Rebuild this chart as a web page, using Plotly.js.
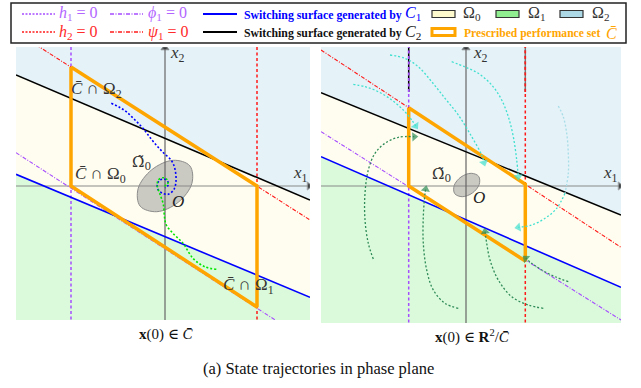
<!DOCTYPE html>
<html><head><meta charset="utf-8">
<script src="https://cdn.plot.ly/plotly-3.0.1.min.js"></script>
<style>html,body{margin:0;padding:0;background:#fff}</style>
</head><body><div id="chart" style="width:641px;height:388px"></div>
<script>
// ===== Left panel: x(0) in C-bar (coordinates x1 right, x2 up) =====
const L_range_x = [-149, 145];
const L_range_y = [-134, 139];
const L_black_x = [-149, 145], L_black_y = [111, -14];
const L_blue_x = [-149, 145], L_blue_y = [11.7, -111.3];
const L_phi_x = [-149, 118], L_phi_y = [33.3, -139];
const L_psi_x = [-128.7, 145], L_psi_y = [141, -34];
const L_h1_x = -94, L_h2_x = 92;
const L_C_x = [-94, 92, 92, -94, -94];
const L_C_y = [119, 0, -121, 0, 119];
const L_ell_x = [24.9, 8.3, -13.2, -26.9, -24.9, -8.3, 13.2, 26.9, 24.9];
const L_ell_y = [20.1, 25.7, 16.3, -2.7, -20.1, -25.7, -16.3, 2.7, 20.1];
const L_trajB_x = [-53.7, -46, -38.7, -30, -22, -13, -3.3, 6.7, 10, 11, 9, 3.3, -2.3, -6.7, -7.7, -5, 0, 3.3, 2.7, 0];
const L_trajB_y = [82.7, 79, 74.3, 66, 57.7, 46, 35, 25, 16.7, 5, -3.3, -8.3, -7.3, -4, 1.7, 6, 6.7, 3.3, 0, -1.7];
const L_trajG_x = [51.3, 39.7, 28, 18, 8, 1.3, -0.5, -1.7, -5, -7.7, -6.7, -1.7, 1.7, 2.7, -1];
const L_trajG_y = [-83.3, -80.7, -72.3, -57.3, -47.3, -39, -31, -18.3, -8.3, 0, 6, 8.3, 6.7, 1.7, 0];

// ===== Right panel: x(0) in R^2 / C-bar =====
const R_range_x = [-145, 155];
const R_range_y = [-137, 139];
const R_black_x = [-145, 155], R_black_y = [93.3, -29];
const R_blue_x = [-145, 155], R_blue_y = [29.3, -101.3];
const R_phi_x = [-145, 155], R_phi_y = [54.3, -134];
const R_psi_x = [-145, 155], R_psi_y = [136, -61.3];
const R_h1_x = -57.3, R_h2_x = 59.3;
const R_C_x = [-57.3, 59.3, 59.3, -57.3, -57.3];
const R_C_y = [78.3, 1.7, -75, 0, 78.3];
const R_ell_x = [12.7, 5.2, -5.0, -11.8, -11.3, -3.8, 6.4, 13.2, 12.7];
const R_ell_y = [9.6, 12.7, 9.0, 0.5, -7.6, -10.7, -7.0, 1.5, 9.6];
const R_cyan = [
  {x: [-76, -61, -47.7, -34.3, -21, -7.7, 5.7, 15.7, 18], y: [131, 127.7, 119.3, 104.3, 87.7, 71, 49.3, 31, 23.3]},
  {x: [-14.3, -1, 12.3, 25.7, 35.7, 42.3, 47.3, 50.7, 52.3], y: [124.3, 119, 112.7, 101, 86, 69.3, 49.3, 26, 9.3]},
  {x: [-112.7, -101, -87.7, -74.3, -62.7, -54.3, -50.3], y: [101.7, 99.3, 94.3, 86, 76, 66, 60]}
];
const R_light_x = [92.3, 97.3, 100.7, 102.3, 102.3, 99];
const R_light_y = [80, 69.3, 52.7, 32.7, 12.7, -7.3];
const R_cyan4_x = [99, 90.7, 79, 65.7, 52.3];
const R_cyan4_y = [-7.3, -22.3, -32.3, -39, -41.3];
const R_green = [
  {x: [-92.7, -97.7, -101, -101, -97.7, -91, -81, -67.7, -51.7], y: [-73, -57.3, -34, -7.3, 16, 32.7, 42.7, 48.7, 49.3]},
  {x: [-7.7, -21, -32.7, -39.3, -42.7, -42.7, -41, -40.3], y: [-122.3, -117.3, -104, -84, -57.3, -30.7, -7.3, -3.3]},
  {x: [77.3, 62.3, 45.7, 32.3, 24, 20.7, 19], y: [-122.3, -119, -110.7, -94, -74, -57.3, -45.7]},
  {x: [102.3, 89, 75.7, 65.7, 59.7], y: [-95.7, -90.7, -84, -77.3, -72.3]}
];
const R_dark_top = [94, 139];

// ===== colours =====
const C_purple = '#a64dff', C_red = '#ff1a1a', C_orange = '#ffa500';
const F = '"Liberation Serif", "Times New Roman", Times, "DejaVu Serif", serif';
const FD = '"DejaVu Serif", serif';
const W = 641, H = 388;
const px = v => v / W, py = v => 1 - v / H;

const traces = [];
function add(t) { t.hoverinfo = 'skip'; t.showlegend = false; traces.push(t); }

function panel(ax, ay, rx, ry, bx, by, blx, bly, phx, phy, psx, psy, h1, h2, Cx, Cy, ex, ey) {
  add({type:'scatter', mode:'lines', xaxis:ax, yaxis:ay, fill:'toself', fillcolor:'rgba(173,216,230,0.32)', line:{width:0},
       x:[rx[0], rx[1], bx[1], bx[0]], y:[ry[1], ry[1], by[1], by[0]]});
  add({type:'scatter', mode:'lines', xaxis:ax, yaxis:ay, fill:'toself', fillcolor:'rgba(255,250,205,0.32)', line:{width:0},
       x:[bx[0], bx[1], blx[1], blx[0]], y:[by[0], by[1], bly[1], bly[0]]});
  add({type:'scatter', mode:'lines', xaxis:ax, yaxis:ay, fill:'toself', fillcolor:'rgba(144,238,144,0.32)', line:{width:0},
       x:[blx[0], blx[1], rx[1], rx[0]], y:[bly[0], bly[1], ry[0], ry[0]]});
  add({type:'scatter', mode:'lines', xaxis:ax, yaxis:ay, x:ex, y:ey, fill:'toself', fillcolor:'rgba(150,150,150,0.5)',
       line:{color:'#8c8c8c', width:1, shape:'spline'}});
  add({type:'scatter', mode:'lines+markers', xaxis:ax, yaxis:ay, x:[rx[0], rx[1]-1], y:[0, 0],
       line:{color:'#8a8a8a', width:1.2}, marker:{size:[0,7], symbol:'triangle-up', angleref:'previous', color:'#111'}});
  add({type:'scatter', mode:'lines+markers', xaxis:ax, yaxis:ay, x:[0, 0], y:[ry[0]-3, ry[1]-1],
       line:{color:'#666', width:1.2}, marker:{size:[0,7], symbol:'triangle-up', angleref:'previous', color:'#111'}});
  add({type:'scatter', mode:'lines', xaxis:ax, yaxis:ay, x:[h1, h1], y:[ry[0]-5, ry[1]+5], line:{color:C_purple, width:1.5, dash:'3px,2.5px'}});
  add({type:'scatter', mode:'lines', xaxis:ax, yaxis:ay, x:[h2, h2], y:[ry[0]-5, ry[1]+5], line:{color:C_red, width:1.5, dash:'3px,2.5px'}});
  add({type:'scatter', mode:'lines', xaxis:ax, yaxis:ay, x:phx, y:phy, line:{color:C_purple, width:1.1, dash:'4px,1.5px,1px,1.5px'}});
  add({type:'scatter', mode:'lines', xaxis:ax, yaxis:ay, x:psx, y:psy, line:{color:C_red, width:1.1, dash:'4px,1.5px,1px,1.5px'}});
  add({type:'scatter', mode:'lines', xaxis:ax, yaxis:ay, x:bx, y:by, line:{color:'#000', width:1.6}});
  add({type:'scatter', mode:'lines', xaxis:ax, yaxis:ay, x:blx, y:bly, line:{color:'#0000ff', width:1.6}});
}

panel('x', 'y', L_range_x, L_range_y, L_black_x, L_black_y, L_blue_x, L_blue_y, L_phi_x, L_phi_y, L_psi_x, L_psi_y,
      L_h1_x, L_h2_x, L_C_x, L_C_y, L_ell_x, L_ell_y);
panel('x2', 'y2', R_range_x, R_range_y, R_black_x, R_black_y, R_blue_x, R_blue_y, R_phi_x, R_phi_y, R_psi_x, R_psi_y,
      R_h1_x, R_h2_x, R_C_x, R_C_y, R_ell_x, R_ell_y);

add({type:'scatter', mode:'lines', xaxis:'x2', yaxis:'y2', x:[R_h1_x, R_h1_x], y:R_dark_top, line:{color:'#000', width:1.5}});
add({type:'scatter', mode:'lines', xaxis:'x2', yaxis:'y2', x:[R_h2_x, R_h2_x], y:R_dark_top, line:{color:'#777', width:1.5}});
add({type:'scatter', mode:'lines', xaxis:'x2', yaxis:'y2', x:[R_h1_x, R_h1_x], y:R_dark_top, line:{color:C_purple, width:1.5, dash:'3px,2.5px'}});
add({type:'scatter', mode:'lines', xaxis:'x2', yaxis:'y2', x:[R_h2_x, R_h2_x], y:R_dark_top, line:{color:C_red, width:1.5, dash:'3px,2.5px'}});

add({type:'scatter', mode:'lines', xaxis:'x', yaxis:'y', x:L_C_x, y:L_C_y, line:{color:C_orange, width:3.5}});
add({type:'scatter', mode:'lines', xaxis:'x2', yaxis:'y2', x:R_C_x, y:R_C_y, line:{color:C_orange, width:3.5}});

function traj(xs, ys, color, ax, ay, startSize, arrowSize, width) {
  const n = xs.length;
  add({type:'scatter', mode:'lines+markers', xaxis:ax, yaxis:ay, x:xs, y:ys,
       line:{color:color, width:width || 1.5, dash:'2px,2px', shape:'spline'},
       marker:{color:color, angleref:'previous', line:{width:0},
               size: xs.map((_, i) => i === 0 ? startSize : (i === n - 1 ? arrowSize : 0)),
               symbol: xs.map((_, i) => (i === n - 1 && arrowSize > 0) ? 'triangle-up' : 'circle')}});
}
traj(L_trajB_x, L_trajB_y, '#0000ff', 'x', 'y', 8, 0, 1.6);
traj(L_trajG_x, L_trajG_y, '#00e600', 'x', 'y', 9, 0, 1.6);
R_cyan.forEach(t => traj(t.x, t.y, '#40e0d0', 'x2', 'y2', 6, 8, 1.3));
traj(R_light_x, R_light_y, '#a8dde8', 'x2', 'y2', 6, 0, 1.3);
traj(R_cyan4_x, R_cyan4_y, '#40e0d0', 'x2', 'y2', 0, 8, 1.3);
R_green.forEach(t => traj(t.x, t.y, '#2e8b57', 'x2', 'y2', 5, 8, 1.3));

// ===== annotations =====
const ann = [];
function tx(text, x, y, xref, yref, size, color, xanchor, fam) {
  ann.push({text:text, x:x, y:y, xref:xref, yref:yref, showarrow:false, xanchor:xanchor || 'left', yanchor:'middle',
            font:{family:fam || F, size:size, color:color}, borderpad:0});
}
// left panel labels
tx('<i>C\u0304</i> ∩ Ω<sub>2</sub>', -95, 96, 'x', 'y', 17, '#333');
tx('<i>C\u0304</i> ∩ Ω<sub>0</sub>', -91, 11, 'x', 'y', 17, '#333');
tx('Ω\u0303<sub>0</sub>', -34, 24, 'x', 'y', 15, '#333', 'left', FD);
tx('<i>O</i>', 6, -15, 'x', 'y', 17, '#222');
tx('<i>C\u0304</i> ∩ Ω<sub>1</sub>', 57, -100, 'x', 'y', 17, '#333');
tx('<i>x</i><sub>1</sub>', 127, 12, 'x', 'y', 17, '#333');
tx('<i>x</i><sub>2</sub>', 4, 132, 'x', 'y', 17, '#333');
// right panel labels
tx('Ω\u0303<sub>0</sub>', -35, 12, 'x2', 'y2', 15, '#333', 'left', FD);
tx('<i>O</i>', 6, -11, 'x2', 'y2', 17, '#222');
tx('<i>x</i><sub>1</sub>', 136, 12, 'x2', 'y2', 17, '#333');
tx('<i>x</i><sub>2</sub>', 6, 132, 'x2', 'y2', 17, '#333');
// captions
tx('<b>x</b>(0) ∈ <i>C\u0304</i>', px(166), py(334), 'paper', 'paper', 15, '#111', 'center');
tx('<b>x</b>(0) ∈ <b>R</b><sup>2</sup>/<i>C\u0304</i>', px(472), py(336), 'paper', 'paper', 15, '#111', 'center');
tx('(a) State trajectories in phase plane', px(318), py(368), 'paper', 'paper', 16.5, '#111', 'center');

// legend
const shapes = [];
shapes.push({type:'rect', xref:'paper', yref:'paper', x0:px(11), x1:px(626), y0:py(43), y1:py(3), line:{color:'#222', width:1.5}, fillcolor:'rgba(255,255,255,0)'});
function lline(x0, x1, y, color, dash, width) {
  shapes.push({type:'line', xref:'paper', yref:'paper', x0:px(x0), x1:px(x1), y0:py(y), y1:py(y), line:{color:color, width:width, dash:dash}});
}
function lbox(x0, x1, y, fill, lc, lw) {
  shapes.push({type:'rect', xref:'paper', yref:'paper', x0:px(x0), x1:px(x1), y0:py(y + 3.5), y1:py(y - 3.5), fillcolor:fill, line:{color:lc, width:lw}});
}
const r1 = 14, r2 = 32;
lline(22, 55, r1, C_purple, '2px,1.5px', 1.3);
lline(110, 143, r1, C_purple, '4px,1.5px,1px,1.5px', 1.3);
lline(203, 237, r1, '#0000ff', 'solid', 2);
lbox(432, 455, r1, '#fffacd', '#333', 1.2);
lbox(496, 519, r1, '#90ee90', '#333', 1.2);
lbox(560, 583, r1, '#add8e6', '#333', 1.2);
lline(22, 55, r2, C_red, '2px,1.5px', 1.3);
lline(110, 143, r2, C_red, '4px,1.5px,1px,1.5px', 1.3);
lline(203, 237, r2, '#000', 'solid', 2);
lbox(432, 455, r2, '#ffffff', C_orange, 3);

tx('<i>h</i><sub>1</sub> = 0', px(58), py(r1), 'paper', 'paper', 16, '#b266ff');
tx('<i>ϕ</i><sub>1</sub> = 0', px(147), py(r1), 'paper', 'paper', 16, '#b266ff');
tx('<b>Switching surface generated by</b>', px(243), py(r1 + 1), 'paper', 'paper', 11.8, '#0000ff');
tx('<i>C</i><sub>1</sub>', px(404), py(r1), 'paper', 'paper', 16, '#0000ff');
tx('Ω<sub>0</sub>', px(462), py(r1), 'paper', 'paper', 16, '#333');
tx('Ω<sub>1</sub>', px(527), py(r1), 'paper', 'paper', 16, '#333');
tx('Ω<sub>2</sub>', px(591), py(r1), 'paper', 'paper', 16, '#333');
tx('<i>h</i><sub>2</sub> = 0', px(58), py(r2), 'paper', 'paper', 16, '#ff2a2a');
tx('<i>ψ</i><sub>1</sub> = 0', px(147), py(r2), 'paper', 'paper', 16, '#ff2a2a');
tx('<b>Switching surface generated by</b>', px(243), py(r2 + 1), 'paper', 'paper', 11.8, '#111');
tx('<i>C</i><sub>2</sub>', px(404), py(r2), 'paper', 'paper', 16, '#111');
tx('<b>Prescribed performance set</b>', px(463), py(r2 + 1), 'paper', 'paper', 11.6, C_orange);
tx('<i>C\u0304</i>', px(605), py(r2 + 1), 'paper', 'paper', 16, C_orange);

const layout = {
  width: W, height: H, margin:{l:0, r:0, t:0, b:0},
  paper_bgcolor:'#fff', plot_bgcolor:'rgba(0,0,0,0)', showlegend:false,
  font:{family:F},
  xaxis:{domain:[px(16), px(310)], range:L_range_x, visible:false, fixedrange:true},
  yaxis:{domain:[py(320), py(47)], range:L_range_y, visible:false, fixedrange:true},
  xaxis2:{domain:[px(321), px(621)], range:R_range_x, visible:false, anchor:'y2', fixedrange:true},
  yaxis2:{domain:[py(323), py(47)], range:R_range_y, visible:false, anchor:'x2', fixedrange:true},
  annotations: ann, shapes: shapes
};
Plotly.newPlot('chart', traces, layout, {displayModeBar:false, staticPlot:true});
</script></body></html>
